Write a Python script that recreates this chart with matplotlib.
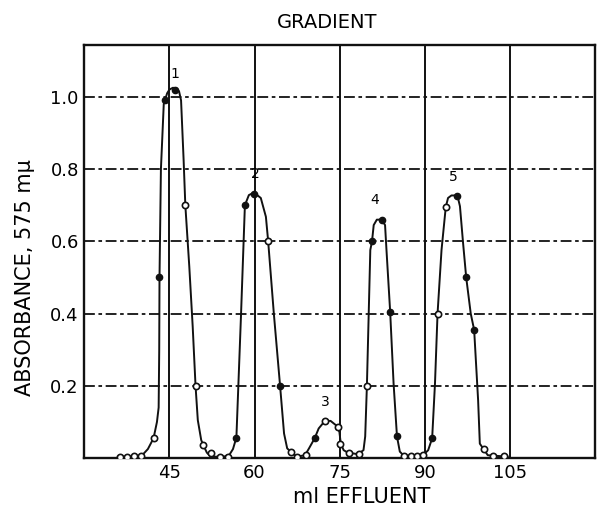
import matplotlib
matplotlib.use("Agg")
import matplotlib.pyplot as plt

# curve (ml effluent, absorbance)
curve_x = [35.9, 37.5, 39.0, 40.2, 41.2, 42.2, 42.8, 43.1, 43.2, 43.25, 43.5, 44.0,
           44.6, 45.0, 45.6, 46.2, 46.7, 47.05, 47.5, 47.8, 48.5, 49.1, 49.6, 50.0,
           50.6, 51.0, 51.6, 52.3, 54.6, 55.6, 56.2, 56.8, 57.6, 58.3, 59.0, 59.9,
           61.1, 62.0, 62.4, 63.4, 64.5, 65.2, 65.75, 66.35, 67.4, 68.9, 69.6, 70.6,
           71.3, 72.4, 73.4, 74.35, 74.95, 75.2, 75.7, 76.45, 78.2, 79.2, 79.5, 79.8,
           80.4, 80.7, 81.0, 81.55, 82.4, 83.0, 83.25, 83.9, 84.5, 85.1, 85.6, 86.4,
           89.7, 90.6, 91.3, 91.8, 92.25, 92.95, 93.7, 94.1, 94.7, 95.75, 96.2, 96.75,
           97.3, 98.1, 98.7, 99.4, 99.7, 100.4, 101.1, 104.6]
curve_y = [0.004, 0.004, 0.005, 0.008, 0.025, 0.055, 0.10, 0.14, 0.30, 0.50, 0.80, 0.98,
           1.01, 1.02, 1.025, 1.024, 1.015, 0.99, 0.825, 0.70, 0.53, 0.364, 0.20, 0.105,
           0.05, 0.035, 0.015, 0.004, 0.004, 0.01, 0.025, 0.057, 0.39, 0.70, 0.728, 0.735,
           0.72, 0.668, 0.60, 0.40, 0.20, 0.068, 0.027, 0.018, 0.004, 0.008, 0.027, 0.055,
           0.082, 0.103, 0.103, 0.091, 0.073, 0.04, 0.022, 0.015, 0.011, 0.022, 0.06, 0.20,
           0.576, 0.60, 0.645, 0.66, 0.66, 0.645, 0.576, 0.405, 0.207, 0.06, 0.018, 0.005,
           0.008, 0.022, 0.055, 0.207, 0.40, 0.576, 0.695, 0.72, 0.727, 0.727, 0.697, 0.595,
           0.50, 0.40, 0.355, 0.16, 0.04, 0.024, 0.008, 0.004]

# measured points, open circles
open_x = [36.3, 37.5, 38.7, 40.0, 42.2, 47.8, 49.6, 51.0, 52.3, 53.9, 55.3,
          62.4, 66.4, 67.5, 69.0, 72.4, 74.7, 75.1, 76.6, 78.4, 79.8,
          86.4, 87.6, 88.7, 89.7, 92.25, 93.7, 100.4, 102.0, 103.9]
open_y = [0.004, 0.004, 0.005, 0.006, 0.055, 0.70, 0.20, 0.035, 0.015, 0.004, 0.004,
          0.60, 0.016, 0.004, 0.008, 0.103, 0.085, 0.04, 0.015, 0.011, 0.20,
          0.005, 0.005, 0.005, 0.008, 0.40, 0.695, 0.024, 0.005, 0.005]

# measured points, filled circles
filled_x = [43.1, 44.2, 46.05, 56.8, 58.3, 59.9, 64.5, 70.6, 80.7, 82.4, 83.9, 85.1,
            91.3, 95.6, 97.3, 98.7]
filled_y = [0.50, 0.99, 1.02, 0.057, 0.70, 0.73, 0.20, 0.055, 0.60, 0.66, 0.405, 0.06,
            0.055, 0.725, 0.50, 0.355]

peak_labels = ["1", "2", "3", "4", "5"]
peak_x = [45.9, 60.2, 72.5, 81.2, 95.0]
peak_y = [1.045, 0.767, 0.135, 0.695, 0.76]

xticks = [45, 60, 75, 90, 105]
yticks = [0.2, 0.4, 0.6, 0.8, 1.0]
ytick_labels = ["0.2", "0.4", "0.6", "0.8", "1.0"]

fig = plt.figure(figsize=(5.98, 5.13), dpi=100)
ax = fig.add_axes([0.141, 0.107, 0.854, 0.805])

ax.set_xlim(30, 120)
ax.set_ylim(0, 1.143)

# grid: solid verticals, dashed horizontals
for x in xticks:
    ax.axvline(x, color="#111111", lw=1.4, zorder=1)
for y in yticks:
    ax.axhline(y, color="#111111", lw=1.3, ls=(0, (6, 2, 2, 2)), zorder=1)

ax.plot(curve_x, curve_y, color="#111111", lw=1.4, zorder=2)
ax.plot(open_x, open_y, "o", ms=4.5, mfc="white", mec="#111111", mew=1.2, zorder=3)
ax.plot(filled_x, filled_y, "o", ms=4.5, mfc="#111111", mec="#111111", zorder=3)

for lab, px, py in zip(peak_labels, peak_x, peak_y):
    ax.text(px, py, lab, ha="center", va="bottom", fontsize=10)

ax.set_xticks(xticks)
ax.set_yticks(yticks)
ax.set_yticklabels(ytick_labels)
ax.tick_params(length=0, labelsize=13, pad=4)
for s in ax.spines.values():
    s.set_linewidth(1.7)
    s.set_color("#111111")

fig.text(327 / 598, 1 - 23 / 513, "GRADIENT", ha="center", va="center", fontsize=14)
fig.text(362 / 598, 1 - 497 / 513, "ml EFFLUENT", ha="center", va="center", fontsize=15)
fig.text(25 / 598, 1 - 278 / 513, "ABSORBANCE, 575 m\u03bc", ha="center", va="center",
         rotation=90, fontsize=15)

fig.savefig("out.png", dpi=100)
